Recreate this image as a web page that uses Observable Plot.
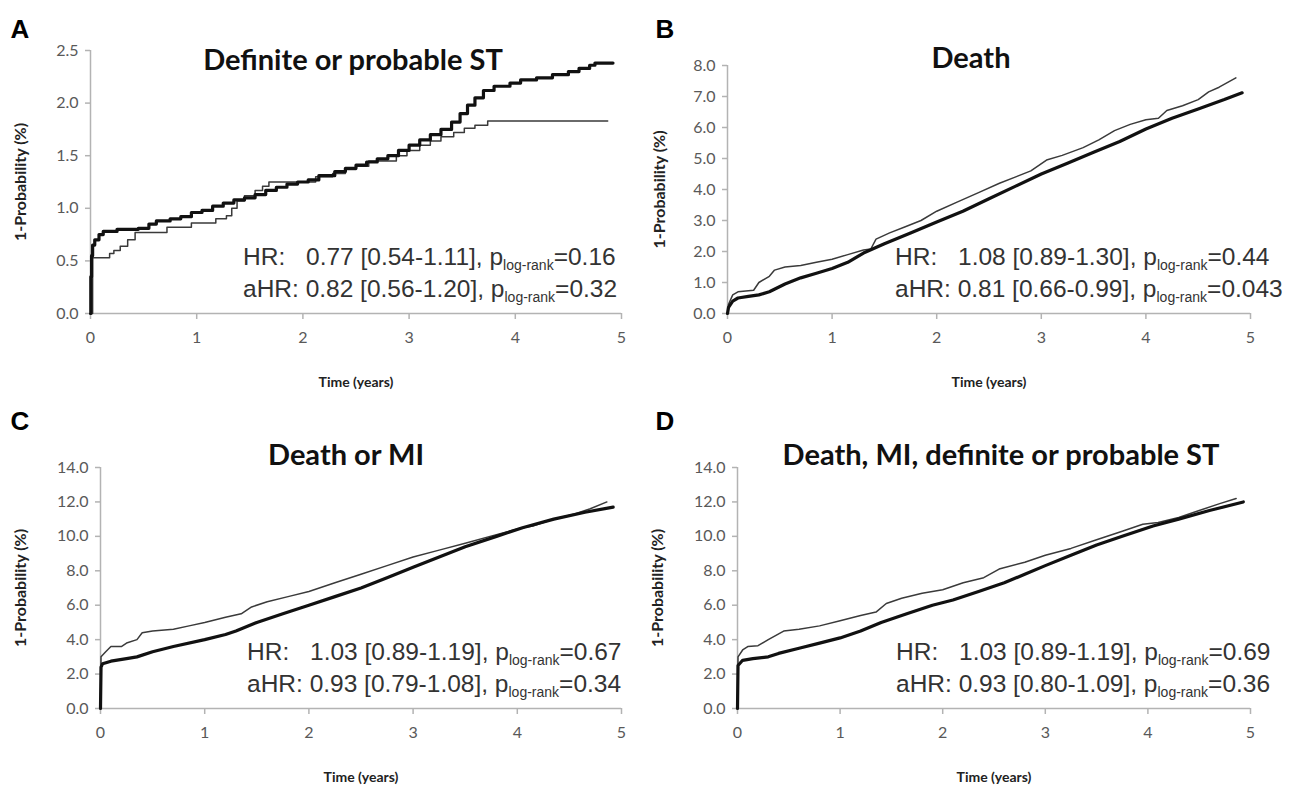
<!DOCTYPE html>
<html><head><meta charset="utf-8">
<script src="https://cdn.jsdelivr.net/npm/d3@7"></script>
<script src="https://cdn.jsdelivr.net/npm/@observablehq/plot@0.6"></script>
<style>
body{margin:0;background:#fff;}
#root{position:relative;width:1290px;height:787px;overflow:hidden;background:#fff;}
#root svg{position:absolute;overflow:visible;}
</style></head><body><div id="root"></div>
<script>
// ---------- data ----------
const panelLetters = ["A", "B", "C", "D"];
const panelTitles = ["Definite or probable ST", "Death", "Death or MI", "Death, MI, definite or probable ST"];
const xTicks = [0, 1, 2, 3, 4, 5];
const yTicksA = [0, 0.5, 1, 1.5, 2, 2.5];
const yTicksB = [0, 1, 2, 3, 4, 5, 6, 7, 8];
const yTicksCD = [0, 2, 4, 6, 8, 10, 12, 14];
const hrText = ["0.77 [0.54-1.11]", "1.08 [0.89-1.30]", "1.03 [0.89-1.19]", "1.03 [0.89-1.19]"];
const hrP = ["0.16", "0.44", "0.67", "0.69"];
const ahrText = ["0.82 [0.56-1.20]", "0.81 [0.66-0.99]", "0.93 [0.79-1.08]", "0.93 [0.80-1.09]"];
const ahrP = ["0.32", "0.043", "0.34", "0.36"];

const aThickT = [0,0.003,0.01,0.02,0.04,0.08,0.12,0.25,0.45,0.55,0.62,0.75,0.85,0.95,1.05,1.15,1.25,1.35,1.45,1.55,1.65,1.75,1.85,1.95,2.05,2.15,2.3,2.4,2.5,2.6,2.7,2.8,2.9,3.0,3.1,3.2,3.3,3.4,3.48,3.55,3.62,3.7,3.8,3.95,4.05,4.2,4.35,4.5,4.6,4.7,4.75,4.92];
const aThickV = [0,0.35,0.55,0.65,0.7,0.75,0.78,0.8,0.81,0.85,0.88,0.9,0.92,0.96,0.98,1.02,1.05,1.08,1.1,1.13,1.17,1.2,1.23,1.25,1.27,1.31,1.35,1.38,1.41,1.44,1.47,1.5,1.55,1.6,1.65,1.7,1.75,1.82,1.9,1.98,2.05,2.12,2.16,2.19,2.22,2.24,2.27,2.3,2.33,2.36,2.38,2.38];
const aThinT = [0,0.02,0.18,0.22,0.28,0.35,0.42,0.72,0.95,1.18,1.28,1.33,1.38,1.45,1.55,1.62,1.68,2.12,2.28,2.4,2.5,2.62,2.88,2.98,3.1,3.2,3.3,3.42,3.52,3.62,3.74,4.87];
const aThinV = [0,0.53,0.57,0.6,0.64,0.7,0.77,0.82,0.86,0.9,0.93,1.0,1.07,1.12,1.17,1.21,1.25,1.3,1.33,1.37,1.4,1.45,1.5,1.55,1.6,1.64,1.68,1.72,1.76,1.79,1.83,1.83];

const bThickT = [0,0.01,0.05,0.1,0.2,0.3,0.4,0.55,0.7,0.85,1.0,1.15,1.3,1.5,1.75,2.0,2.25,2.5,2.75,3.0,3.25,3.5,3.75,4.0,4.25,4.5,4.75,4.92];
const bThickV = [0,0.2,0.4,0.5,0.55,0.6,0.7,0.95,1.15,1.3,1.45,1.65,1.95,2.25,2.6,2.95,3.3,3.7,4.1,4.5,4.85,5.2,5.55,5.95,6.3,6.6,6.9,7.12];
const bThinT = [0,0.01,0.05,0.1,0.25,0.3,0.4,0.45,0.55,0.7,0.85,1.0,1.15,1.3,1.37,1.42,1.55,1.7,1.85,2.0,2.2,2.4,2.6,2.75,2.9,3.05,3.2,3.4,3.55,3.7,3.85,4.0,4.12,4.2,4.35,4.5,4.6,4.7,4.86];
const bThinV = [0,0.3,0.6,0.7,0.75,1.0,1.2,1.4,1.5,1.55,1.65,1.75,1.9,2.05,2.08,2.4,2.6,2.8,3.0,3.3,3.6,3.9,4.2,4.4,4.6,4.95,5.1,5.35,5.6,5.9,6.1,6.25,6.3,6.55,6.7,6.9,7.15,7.3,7.6];

const cThickT = [0,0.005,0.02,0.1,0.25,0.35,0.5,0.7,1.0,1.2,1.3,1.5,1.75,2.0,2.25,2.5,2.75,3.0,3.25,3.5,3.8,4.05,4.35,4.65,4.92];
const cThickV = [0,2.4,2.6,2.75,2.9,3.0,3.3,3.6,4.0,4.3,4.5,5.0,5.5,6.0,6.5,7.0,7.6,8.2,8.8,9.4,10.0,10.5,11.0,11.4,11.7];
const cThinT = [0,0.005,0.05,0.1,0.2,0.25,0.35,0.4,0.5,0.7,0.85,1.0,1.2,1.35,1.45,1.6,1.8,2.0,2.25,2.5,2.75,3.0,3.25,3.5,3.8,4.05,4.15,4.35,4.55,4.7,4.86];
const cThinV = [0,3.0,3.3,3.6,3.6,3.8,4.0,4.4,4.5,4.6,4.8,5.0,5.3,5.5,5.9,6.2,6.5,6.8,7.3,7.8,8.3,8.8,9.2,9.6,10.1,10.5,10.6,11.0,11.3,11.6,12.0];

const dThickT = [0,0.005,0.05,0.15,0.3,0.4,0.6,0.8,1.0,1.2,1.4,1.65,1.9,2.1,2.35,2.6,2.8,3.0,3.25,3.5,3.75,4.05,4.3,4.6,4.93];
const dThickV = [0,2.5,2.8,2.9,3.0,3.2,3.5,3.8,4.1,4.5,5.0,5.5,6.0,6.3,6.8,7.3,7.8,8.3,8.9,9.5,10.0,10.6,11.0,11.5,12.0];
const dThinT = [0,0.005,0.05,0.1,0.2,0.3,0.45,0.6,0.8,1.0,1.2,1.35,1.45,1.6,1.8,2.0,2.2,2.4,2.55,2.8,3.0,3.25,3.5,3.75,3.95,4.1,4.3,4.5,4.7,4.86];
const dThinV = [0,3.0,3.4,3.6,3.65,4.0,4.5,4.6,4.8,5.1,5.4,5.6,6.1,6.4,6.7,6.9,7.3,7.6,8.1,8.5,8.9,9.3,9.8,10.3,10.7,10.8,11.1,11.5,11.9,12.2];

// ---------- helpers ----------
const pts = (t, v) => t.map((x, i) => ({t: x, v: v[i]}));
const AXIS = "#b3b3b3", TICKTXT = "#595959";
const TICKFONT = "Lato, 'Open Sans', sans-serif";
const ANNOFONT = "'Liberation Sans Narrow', 'Arial Narrow', 'Liberation Sans', Arial, sans-serif";

const layout = [
  {left: 0,   top: 0,   w: 645, h: 393, mL: 90, mR: 24, mT: 50, mB: 80, yMax: 2.5, ticks: yTicksA,
   thick: pts(aThickT, aThickV), thin: pts(aThinT, aThinV), curve: "step-after",
   titleDx: -3, titleDy: 10, letterDx: -80, letterDy: -21, ylabDx: -70, annoX: 153},
  {left: 645, top: 0,   w: 645, h: 393, mL: 82, mR: 40, mT: 65, mB: 80, yMax: 8, ticks: yTicksB,
   thick: pts(bThickT, bThickV), thin: pts(bThinT, bThinV), curve: "linear",
   titleDx: -18, titleDy: -7, letterDx: -72, letterDy: -36, ylabDx: -68, annoX: 168},
  {left: 0,   top: 393, w: 645, h: 394, mL: 100, mR: 24, mT: 74, mB: 79, yMax: 14, ticks: yTicksCD,
   thick: pts(cThickT, cThickV), thin: pts(cThinT, cThinV), curve: "linear",
   titleDx: -15, titleDy: -12, letterDx: -90, letterDy: -46, ylabDx: -80, annoX: 147},
  {left: 645, top: 393, w: 645, h: 394, mL: 92, mR: 40, mT: 74, mB: 79, yMax: 14, ticks: yTicksCD,
   thick: pts(dThickT, dThickV), thin: pts(dThinT, dThinV), curve: "linear",
   titleDx: 7, titleDy: -12, letterDx: -82, letterDy: -46, ylabDx: -80, annoX: 159}
];

const root = document.getElementById("root");

layout.forEach((p, i) => {
  const svg = Plot.plot({
    width: p.w, height: p.h,
    marginLeft: p.mL, marginRight: p.mR, marginTop: p.mT, marginBottom: p.mB,
    style: {background: "transparent", overflow: "visible"},
    x: {domain: [0, 5]},
    y: {domain: [0, p.yMax]},
    marks: [
      Plot.axisX({ticks: xTicks, tickSize: 6, tickPadding: 12, stroke: AXIS, strokeWidth: 1.5, fill: TICKTXT,
        fontSize: 16, fontFamily: TICKFONT, label: null, tickFormat: d => String(d)}),
      Plot.axisY({ticks: p.ticks, tickSize: 5, tickPadding: 7, stroke: AXIS, strokeWidth: 1.5, fill: TICKTXT,
        fontSize: 16, fontFamily: TICKFONT, label: null, tickFormat: d => d.toFixed(1)}),
      Plot.ruleY([0], {stroke: AXIS, strokeWidth: 1.5}),
      Plot.ruleX([0], {stroke: AXIS, strokeWidth: 1.5}),
      Plot.line(p.thin, {x: "t", y: "v", curve: p.curve, stroke: "#3a3a3a", strokeWidth: 1.5}),
      Plot.line(p.thick, {x: "t", y: "v", curve: p.curve, stroke: "#111", strokeWidth: 3.2}),
      Plot.text([panelTitles[i]], {frameAnchor: "top", textAnchor: "middle", lineAnchor: "middle", dx: p.titleDx, dy: p.titleDy,
        fontSize: 29, fontWeight: "bold", fontFamily: "Lato, 'Open Sans', sans-serif", fill: "#111"}),
      Plot.text([panelLetters[i]], {frameAnchor: "top-left", textAnchor: "start", lineAnchor: "middle",
        dx: p.letterDx, dy: p.letterDy, fontSize: 26, fontWeight: "bold",
        fontFamily: "'Liberation Sans', Arial, sans-serif", fill: "#000"}),
      Plot.text(["1-Probability (%)"], {frameAnchor: "left", textAnchor: "middle", rotate: -90, dx: p.ylabDx, lineAnchor: "middle",
        fontSize: 16, fontWeight: "bold", fontFamily: TICKFONT, fill: "#222"}),
      Plot.text(["Time (years)"], {frameAnchor: "bottom", textAnchor: "middle", lineAnchor: "middle", dy: 69,
        fontSize: 14, fontWeight: "bold", fontFamily: TICKFONT, fill: "#222"})
    ]
  });
  svg.style.left = p.left + "px";
  svg.style.top = p.top + "px";

  // annotation (with subscripts)
  const g = d3.select(svg).append("g")
    .attr("font-family", ANNOFONT).attr("font-size", 24.5).attr("fill", "#333")
    .attr("text-anchor", "start");
  const x0 = p.mL + p.annoX;
  const yBottom = p.h - p.mB;
  const line1 = g.append("text").attr("x", x0).attr("y", yBottom - 48);
  line1.append("tspan").text("HR:");
  line1.append("tspan").attr("x", x0 + 63).text(hrText[i] + ", p");
  line1.append("tspan").attr("font-size", 14).attr("dy", 5).text("log-rank");
  line1.append("tspan").attr("dy", -5).text("=" + hrP[i]);
  const line2 = g.append("text").attr("x", x0).attr("y", yBottom - 16);
  line2.append("tspan").text("aHR: " + ahrText[i] + ", p");
  line2.append("tspan").attr("font-size", 14).attr("dy", 5).text("log-rank");
  line2.append("tspan").attr("dy", -5).text("=" + ahrP[i]);

  root.appendChild(svg);
});
</script>
</body></html>
